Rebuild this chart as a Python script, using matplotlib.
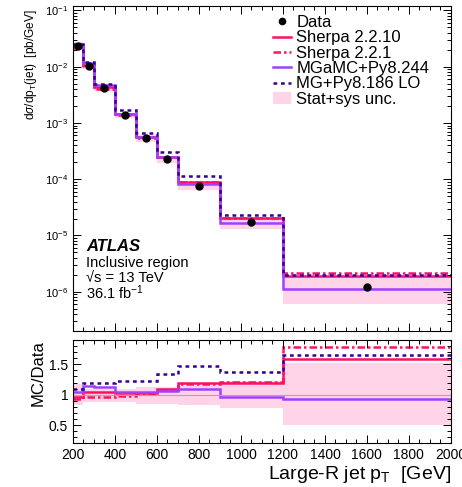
import numpy as np
import matplotlib.pyplot as plt
from matplotlib.ticker import MultipleLocator, LogLocator, NullFormatter
from matplotlib.lines import Line2D
from matplotlib.patches import Patch

plt.rcParams['font.family'] = ['Liberation Sans', 'DejaVu Sans']
plt.rcParams['mathtext.fontset'] = 'custom'
plt.rcParams['mathtext.rm'] = 'Liberation Sans'
plt.rcParams['mathtext.it'] = 'Liberation Sans:italic'
plt.rcParams['mathtext.bf'] = 'Liberation Sans:bold'

# bin edges in large-R jet pT [GeV]
edges = np.array([200, 250, 300, 400, 500, 600, 700, 900, 1200, 2000])

# measured cross-section [pb/GeV]
data_xsec = np.array([2.34e-2, 1.03e-2, 4.2e-3, 1.39e-3, 5.4e-4, 2.3e-4, 7.6e-5, 1.7e-5, 1.2e-6])

# relative stat+sys uncertainty (lower / upper edge of the band, as ratio)
unc_lo = np.array([0.83, 0.88, 0.88, 0.88, 0.85, 0.85, 0.83, 0.78, 0.50])
unc_hi = np.array([1.17, 1.10, 1.10, 1.10, 1.12, 1.12, 1.15, 1.22, 1.52])

# MC / Data ratios
r_sherpa2210 = np.array([0.97, 1.04, 1.04, 1.03, 1.03, 1.10, 1.19, 1.20, 1.59])
r_sherpa221 = np.array([0.93, 0.97, 0.97, 0.98, 1.01, 1.07, 1.17, 1.21, 1.78])
r_mgamc = np.array([1.05, 1.15, 1.12, 1.04, 1.04, 1.06, 1.09, 0.96, 0.93])
r_mglo = np.array([1.09, 1.19, 1.19, 1.23, 1.23, 1.34, 1.47, 1.38, 1.66])

centers = 0.5 * (edges[1:] + edges[:-1])

c_band = '#ffd3e8'
c_sherpa = '#ff1060'
c_mgamc = '#a040ff'
c_mglo = '#330099'

models = [
    ('Sherpa 2.2.10', r_sherpa2210, c_sherpa, '-'),
    ('Sherpa 2.2.1', r_sherpa221, c_sherpa, (0, (3, 1.2, 1, 1.2))),
    ('MGaMC+Py8.244', r_mgamc, c_mgamc, '-'),
    ('MG+Py8.186 LO', r_mglo, c_mglo, (0, (1.5, 1.5))),
]

fig = plt.figure(figsize=(4.62, 4.87), dpi=100)
ax1 = fig.add_axes([0.158, 0.3203, 0.818, 0.6674])
ax2 = fig.add_axes([0.158, 0.0897, 0.818, 0.2121])

# upper panel: distributions
ax1.stairs(data_xsec * unc_hi, edges, baseline=data_xsec * unc_lo, fill=True,
           color=c_band, lw=0)
for name, ratio, col, ls in models:
    ax1.stairs(data_xsec * ratio, edges, baseline=None, color=col, ls=ls, lw=1.8)
ax1.plot(centers, data_xsec, 'o', color='k', ms=5, zorder=5)

ax1.set_yscale('log')
ax1.set_xlim(200, 2000)
ax1.set_ylim(2e-7, 0.12)
ax1.xaxis.set_major_locator(MultipleLocator(200))
ax1.xaxis.set_minor_locator(MultipleLocator(50))
ax1.xaxis.set_major_formatter(NullFormatter())
ax1.yaxis.set_major_locator(LogLocator(base=10, numticks=12))
ax1.yaxis.set_minor_locator(LogLocator(base=10, subs=np.arange(2, 10), numticks=12))
ax1.yaxis.set_minor_formatter(NullFormatter())
ax1.tick_params(axis='y', labelsize=8)

# lower panel: ratio
ax2.stairs(unc_hi, edges, baseline=unc_lo, fill=True, color=c_band, lw=0)
ax2.axhline(1.0, color='#aaaaaa', lw=0.8)
for name, ratio, col, ls in models:
    ax2.stairs(ratio, edges, baseline=None, color=col, ls=ls, lw=1.8)
ax2.set_xlim(200, 2000)
ax2.set_ylim(0.2, 1.9)
ax2.xaxis.set_major_locator(MultipleLocator(200))
ax2.xaxis.set_minor_locator(MultipleLocator(50))
ax2.yaxis.set_major_locator(MultipleLocator(0.5))
ax2.yaxis.set_minor_locator(MultipleLocator(0.1))
ax2.yaxis.set_major_formatter(plt.FuncFormatter(lambda v, p: f'{v:g}'))
ax2.tick_params(labelsize=10)

for ax in (ax1, ax2):
    ax.tick_params(which='both', direction='in', top=True, right=True, width=0.7)
    ax.tick_params(which='major', length=6)
    ax.tick_params(which='minor', length=3)
    for sp in ax.spines.values():
        sp.set_linewidth(0.8)

fig.text(31 / 462, 1 - 9 / 487, r'd$\sigma$/dp$_{\mathrm{T}}$(jet)  [pb/GeV]',
         rotation=90, ha='center', va='top', fontsize=8.6)
fig.text(38 / 462, 1 - 373 / 487, 'MC/Data', rotation=90, ha='center',
         va='center', fontsize=12)
fig.text(451 / 462, 1 - 479 / 487, r'Large-R jet p$_{\mathrm{T}}$  [GeV]',
         ha='right', va='baseline', fontsize=14)

# labels
ax1.text(0.035, 0.247, 'ATLAS', transform=ax1.transAxes, fontsize=12,
         fontweight='bold', fontstyle='italic')
ax1.text(0.035, 0.196, 'Inclusive region', transform=ax1.transAxes, fontsize=10.5)
ax1.text(0.035, 0.151, '\u221as = 13 TeV', transform=ax1.transAxes, fontsize=10.5)
ax1.text(0.035, 0.100, r'36.1 fb$^{-1}$', transform=ax1.transAxes, fontsize=10.5)

handles = [Line2D([], [], marker='o', color='k', ls='none', ms=4.5)]
labels = ['Data']
for name, ratio, col, ls in models:
    handles.append(Line2D([], [], color=col, ls=ls, lw=1.8))
    labels.append(name)
handles.append(Patch(facecolor=c_band, edgecolor='none'))
labels.append('Stat+sys unc.')
ax1.legend(handles, labels, loc='upper left', bbox_to_anchor=(0.525, 0.977),
           frameon=False, fontsize=12, handlelength=1.1, handletextpad=0.3,
           labelspacing=0.02, borderaxespad=0, borderpad=0.1)

fig.savefig('out.png', dpi=100)
